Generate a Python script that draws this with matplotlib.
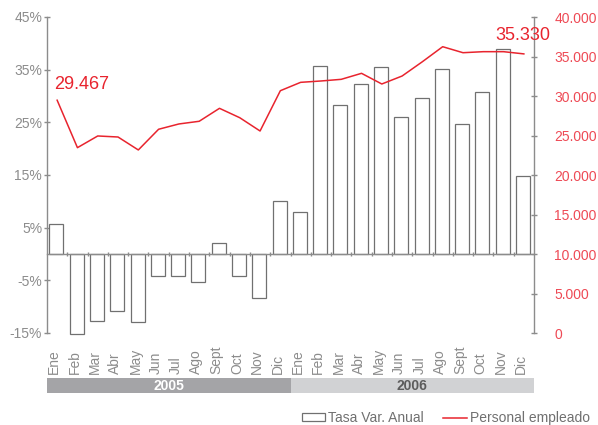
import matplotlib
matplotlib.use("Agg")
import matplotlib.pyplot as plt
import matplotlib.transforms as mtransforms
from matplotlib.patches import Rectangle
from matplotlib.lines import Line2D

plt.rcParams["font.family"] = ["Liberation Sans", "DejaVu Sans"]

# ---------------------------------------------------------------------------
# Datos
# ---------------------------------------------------------------------------
meses = ["Ene", "Feb", "Mar", "Abr", "May", "Jun", "Jul", "Ago", "Sept",
         "Oct", "Nov", "Dic"]
anios = ["2005", "2006"]

# tasa de variacion anual (%)
tasa_var = [5.7, -15.2, -12.8, -10.9, -12.9, -4.2, -4.2, -5.3, 2.0, -4.2,
            -8.4, 10.1,
            7.9, 35.7, 28.2, 32.2, 35.5, 26.1, 29.7, 35.2, 24.7, 30.8,
            38.9, 14.9]

# personal empleado
personal = [29467, 23460, 24940, 24810, 23170, 25790, 26460, 26800, 28440,
            27250, 25570, 30670,
            31730, 31900, 32110, 32870, 31520, 32530, 34340, 36240, 35480,
            35610, 35610, 35330]

GRIS = "#8c8c8c"
GRIS_BARRA = "#707070"
ROJO = "#e8242e"
ROJO_TICK = "#ee4a55"

etiquetas = meses * 2
n = len(etiquetas)
x_barras = [i + 0.46 for i in range(n)]
x_linea = [i + 0.5 for i in range(n)]

fig = plt.figure(figsize=(5.98, 4.25), dpi=100)
ax = fig.add_axes([47 / 598, 1 - 333 / 425, (534 - 47) / 598, (333 - 17) / 425])
ax2 = ax.twinx()

# barras
barras = ax.bar(x_barras, tasa_var, width=0.69, facecolor="white",
                edgecolor=GRIS_BARRA, linewidth=0.9, zorder=2)
for b in barras:
    b.set_clip_on(False)
ax.set_xlim(0, n)
ax.set_ylim(-15, 45)
ax.set_yticks(range(-15, 46, 10))
ax.set_yticklabels([f"{v}%" for v in range(-15, 46, 10)])
ax.set_xticks(range(1, n))
ax.set_xticklabels([])

ax.spines["top"].set_visible(False)
ax2.spines["top"].set_visible(False)
ax.spines["right"].set_visible(False)
ax2.spines["left"].set_visible(False)
ax2.spines["bottom"].set_visible(False)
ax.spines["bottom"].set_position(("data", 0))
for s in ["left", "bottom"]:
    ax.spines[s].set_color(GRIS)
    ax.spines[s].set_linewidth(1.0)
ax2.spines["right"].set_color(GRIS)
ax2.spines["right"].set_linewidth(1.0)

ax.tick_params(axis="y", colors=GRIS, labelcolor=GRIS, labelsize=10,
               direction="inout", length=5, width=1, pad=1)
ax.tick_params(axis="x", colors=GRIS, direction="inout", length=3, width=1)

# linea
ax2.plot(x_linea, personal, color=ROJO, linewidth=1.1, zorder=3)
ax2.set_ylim(0, 40000)
ax2.set_yticks(range(0, 40001, 5000))
ax2.set_yticklabels([f"{v:,}".replace(",", ".") for v in range(0, 40001, 5000)])
ax2.tick_params(axis="y", colors=GRIS, labelcolor=ROJO_TICK, labelsize=10,
                direction="inout", length=5, width=1, pad=12)

ax2.text(0.34, 31400, "29.467", color=ROJO, fontsize=13, va="center",
         ha="left")
ax2.text(22.1, 37720, "35.330", color=ROJO, fontsize=13, va="center",
         ha="left")

# etiquetas de meses y franjas de anio
trans = mtransforms.blended_transform_factory(ax.transData, fig.transFigure)
for i, et in enumerate(etiquetas):
    ax.text(i + 0.36, 1 - 374 / 425, et, rotation=90, ha="center",
            va="bottom", color=GRIS, fontsize=10, transform=trans)

y0 = 1 - 393 / 425
alto = 15 / 425
colores_banda = ["#a4a4a7", "#d1d2d4"]
colores_texto = ["white", "#5c5c5c"]
for k, anio in enumerate(anios):
    r = Rectangle((12 * k, y0), 12, alto, transform=trans,
                  facecolor=colores_banda[k], edgecolor="none", clip_on=False)
    ax.add_patch(r)
    ax.text(12 * k + 6, y0 + alto / 2, anio, transform=trans, ha="center",
            va="center", color=colores_texto[k], fontsize=10,
            fontweight="bold")

# leyenda
h_barra = Rectangle((0, 0), 1, 1, facecolor="white", edgecolor=GRIS_BARRA,
                    linewidth=0.9)
h_linea = Line2D([], [], color=ROJO, linewidth=1.1)
leg = fig.legend([h_barra, h_linea], ["Tasa Var. Anual", "Personal empleado"],
                 loc="center right", bbox_to_anchor=(1.0, 1 - 418 / 425),
                 ncol=2, frameon=False, fontsize=10, handlelength=1.7,
                 handleheight=0.5, handletextpad=0.2, columnspacing=1.4,
                 borderaxespad=0.2)
for t in leg.get_texts():
    t.set_color("#707070")

fig.savefig("out.png", dpi=100)
